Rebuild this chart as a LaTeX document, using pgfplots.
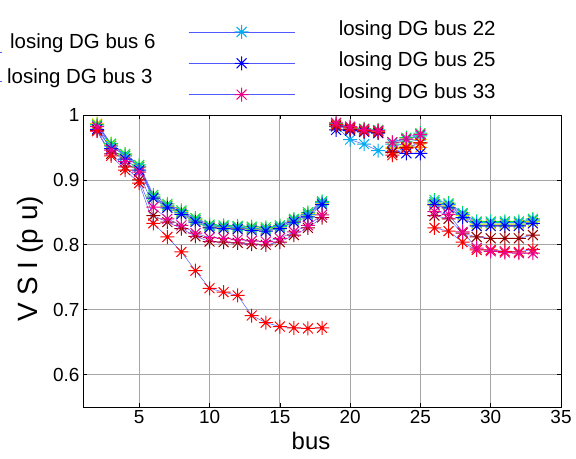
\documentclass[border=0pt]{standalone}
\usepackage{fontspec}
\setmainfont{Liberation Sans}
\usepackage{pgfplots}
\usepackage{pgfplotstable}
\pgfplotsset{compat=1.18}

\definecolor{lineblue}{RGB}{80,90,255}
\definecolor{mbrown}{RGB}{150,0,0}
\definecolor{morange}{RGB}{255,160,0}
\definecolor{myellow}{RGB}{230,220,0}
\definecolor{mgreen}{RGB}{0,230,60}

% matlab style asterisk: plus and cross on top of each other
\pgfdeclareplotmark{mstar}{%
  \pgfpathmoveto{\pgfqpoint{-\pgfplotmarksize}{0pt}}%
  \pgfpathlineto{\pgfqpoint{\pgfplotmarksize}{0pt}}%
  \pgfpathmoveto{\pgfqpoint{0pt}{-\pgfplotmarksize}}%
  \pgfpathlineto{\pgfqpoint{0pt}{\pgfplotmarksize}}%
  \pgfpathmoveto{\pgfqpoint{-0.707\pgfplotmarksize}{-0.707\pgfplotmarksize}}%
  \pgfpathlineto{\pgfqpoint{0.707\pgfplotmarksize}{0.707\pgfplotmarksize}}%
  \pgfpathmoveto{\pgfqpoint{-0.707\pgfplotmarksize}{0.707\pgfplotmarksize}}%
  \pgfpathlineto{\pgfqpoint{0.707\pgfplotmarksize}{-0.707\pgfplotmarksize}}%
  \pgfusepathqstroke}

% VSI per bus; nan rows split the feeder branches
\pgfplotstableread{
bus  red   brown magenta blue  cyan  green yellow orange
2    0.975 0.976 0.982 0.978 0.983 0.985 0.987 0.986
3    0.937 0.940 0.946 0.948 0.952 0.956 0.955 0.953
4    0.915 0.920 0.928 0.932 0.937 0.940 0.939 0.937
5    0.895 0.900 0.912 0.915 0.920 0.923 0.921 0.919
6    0.833 0.845 0.858 0.872 0.874 0.877 0.874 0.872
7    0.812 0.835 0.840 0.857 0.860 0.863 0.861 0.859
8    0.789 0.825 0.830 0.847 0.850 0.853 0.851 0.849
9    0.760 0.813 0.818 0.835 0.838 0.841 0.839 0.837
10   0.733 0.805 0.811 0.826 0.829 0.831 0.829 0.827
11   0.727 0.804 0.810 0.825 0.828 0.830 0.828 0.826
12   0.722 0.803 0.808 0.824 0.827 0.829 0.827 0.825
13   0.691 0.801 0.806 0.822 0.825 0.828 0.826 0.824
14   0.680 0.800 0.805 0.821 0.824 0.827 0.825 0.823
15   0.674 0.804 0.810 0.825 0.828 0.830 0.828 0.826
16   0.672 0.815 0.820 0.835 0.838 0.840 0.838 0.836
17   0.671 0.826 0.830 0.843 0.847 0.850 0.848 0.846
18   0.672 0.842 0.846 0.862 0.865 0.867 0.865 0.863
18.5 nan   nan   nan   nan   nan   nan   nan   nan
19   0.985 0.983 0.988 0.977 0.982 0.987 0.986 0.985
20   0.980 0.978 0.982 0.976 0.962 0.982 0.981 0.980
21   0.976 0.975 0.978 0.974 0.955 0.979 0.978 0.977
22   0.975 0.973 0.976 0.972 0.945 0.977 0.976 0.975
22.5 nan   nan   nan   nan   nan   nan   nan   nan
23   0.938 0.942 0.958 0.943 0.955 0.958 0.950 0.948
24   0.949 0.950 0.963 0.941 0.962 0.965 0.958 0.952
25   0.957 0.957 0.970 0.941 0.968 0.972 0.962 0.950
25.5 nan   nan   nan   nan   nan   nan   nan   nan
26   0.826 0.845 0.851 0.862 0.866 0.869 0.864 0.861
27   0.821 0.840 0.847 0.857 0.862 0.864 0.860 0.857
28   0.804 0.818 0.820 0.842 0.847 0.849 0.845 0.842
29   0.792 0.812 0.795 0.829 0.834 0.836 0.832 0.829
30   0.792 0.810 0.790 0.829 0.834 0.836 0.832 0.829
31   0.790 0.810 0.788 0.829 0.834 0.836 0.832 0.829
32   0.789 0.810 0.787 0.829 0.834 0.836 0.832 0.829
33   0.793 0.815 0.787 0.833 0.838 0.840 0.836 0.833
}\vsi

\pgfplotsset{
  vsiline/.style={lineblue, line width=0.5pt, mark=mstar, mark size=7bp,
    mark options={draw=#1, line width=1pt, solid}},
}

\begin{document}
\begin{tikzpicture}
\path[use as bounding box] (0,0) rectangle (576bp,459bp);
\begin{axis}[
  at={(83bp,52bp)}, anchor=south west,
  scale only axis, width=478bp, height=292bp,
  xmin=1, xmax=35, ymin=0.55, ymax=1,
  xtick={5,10,...,35},
  ytick={0.6,0.7,0.8,0.9,1},
  yticklabels={0.6,0.7,0.8,0.9,1},
  tick align=inside,
  tick style={black, line width=0.6pt},
  major tick length=4bp,
  grid=major,
  major grid style={gray!70, line width=0.7pt},
  axis line style={black, line width=0.7pt},
  unbounded coords=jump,
  /pgf/number format/assume math mode=true,
  ticklabel style={font=\fontsize{19}{22}\selectfont},
  xlabel={bus},
  ylabel={V S I (p u)},
  xlabel style={font=\fontsize{24}{28}\selectfont, at={(axis description cs:0.477,-0.117)}, anchor=center},
  ylabel style={font=\fontsize{28}{32}\selectfont, at={(axis description cs:-0.111,0.507)}, anchor=center},
  legend style={draw=none, fill=none, at={(axis description cs:0.22,1.33)}, anchor=north west,
    font=\fontsize{20.5}{24}\selectfont, row sep=11bp, inner sep=0pt,
    nodes={inner sep=2bp}, cells={anchor=west},
    /tikz/every odd column/.append style={column sep=42bp}},
  legend image code/.code={%
    \draw[mark repeat=2, mark phase=2, #1] plot coordinates {(0bp,-3bp) (53bp,-3bp) (106bp,-3bp)};},
]
\addplot[vsiline=morange, forget plot] table[x=bus, y=orange] {\vsi};
\addplot[vsiline=myellow, forget plot] table[x=bus, y=yellow] {\vsi};
\addplot[vsiline=mgreen, forget plot] table[x=bus, y=green] {\vsi};
\addplot[vsiline=cyan] table[x=bus, y=cyan] {\vsi};
\addlegendentry{losing DG bus 22}
\addplot[vsiline=blue] table[x=bus, y=blue] {\vsi};
\addlegendentry{losing DG bus  25}
\addplot[vsiline=mbrown, forget plot] table[x=bus, y=brown] {\vsi};
\addplot[vsiline=red, forget plot] table[x=bus, y=red] {\vsi};
\addplot[vsiline=magenta] table[x=bus, y=magenta] {\vsi};
\addlegendentry{losing DG bus 33}
\end{axis}
% left legend column, its line samples cut off by the frame
\draw[lineblue, line width=0.5pt] (0,407bp) -- (2bp,407bp);
\draw[lineblue, line width=0.5pt] (0,378bp) -- (2bp,378bp);
\node[anchor=base west, inner sep=0pt, font=\fontsize{20.5}{24}\selectfont] at (10bp,410bp) {losing DG bus 6};
\node[anchor=base west, inner sep=0pt, font=\fontsize{20.5}{24}\selectfont] at (7bp,375bp) {losing DG bus 3};
\end{tikzpicture}
\end{document}
